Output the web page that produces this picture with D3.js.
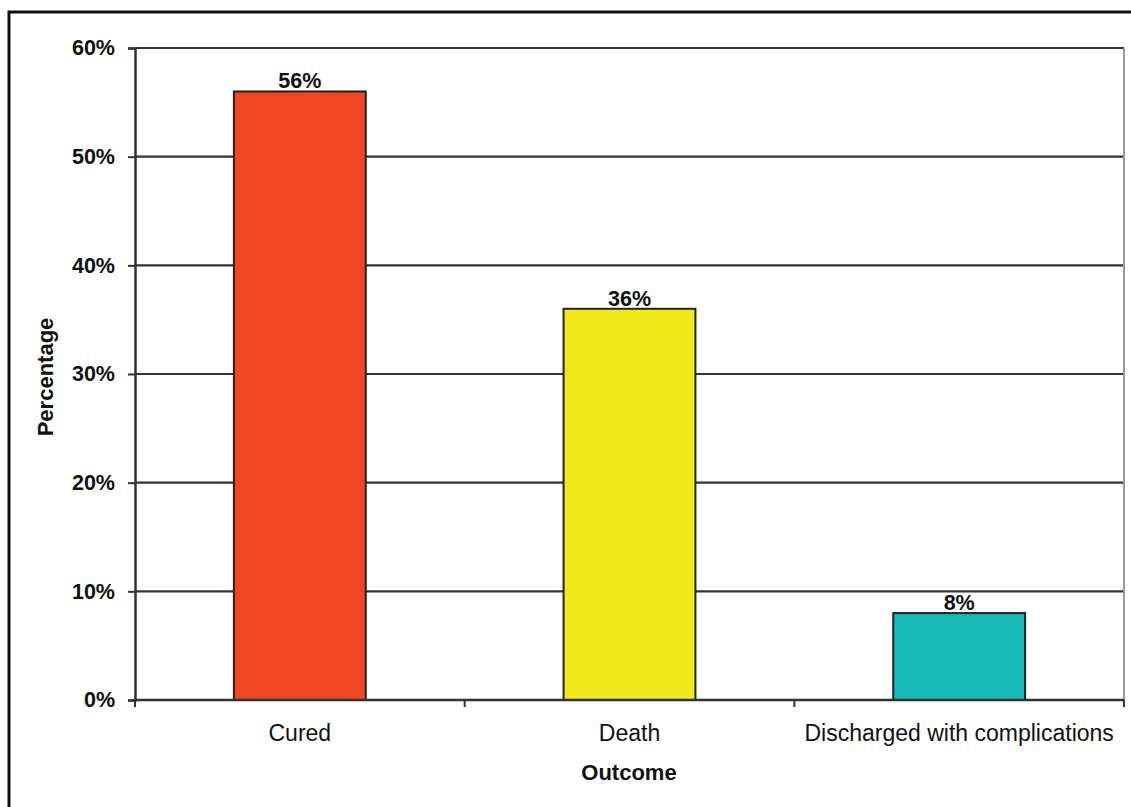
<!DOCTYPE html>
<html>
<head>
<meta charset="utf-8">
<script src="https://cdn.jsdelivr.net/npm/d3@7"></script>
<style>
  html, body { margin: 0; padding: 0; background: #fff; }
  svg { display: block; font-family: "Liberation Sans", Arial, sans-serif; }
</style>
</head>
<body>
<svg id="chart" width="1131" height="807"></svg>
<script>
// Outcome distribution
const categories = ["Cured", "Death", "Discharged with complications"];
const values = [56, 36, 8];
const barColors = ["#ee4722", "#f0ea1a", "#17bab7"];
const yTicks = [0, 10, 20, 30, 40, 50, 60];

const svg = d3.select("#chart");
const W = 1131, H = 807;
const plot = { left: 135, right: 1124, top: 48, bottom: 700 };

// outer frame (runs off the right and bottom edges)
svg.append("rect")
  .attr("x", 9).attr("y", 12)
  .attr("width", W + 20).attr("height", H + 20)
  .attr("fill", "none").attr("stroke", "#111").attr("stroke-width", 3);

const x = d3.scaleBand()
  .domain(categories)
  .range([plot.left, plot.right])
  .paddingInner(0.6).paddingOuter(0.3);

const y = d3.scaleLinear().domain([0, 60]).range([plot.bottom, plot.top]);

// horizontal gridlines
svg.append("g")
  .selectAll("line")
  .data(yTicks.filter(d => d > 0))
  .join("line")
  .attr("x1", plot.left).attr("x2", plot.right)
  .attr("y1", d => y(d)).attr("y2", d => y(d))
  .attr("stroke", "#333").attr("stroke-width", 2.2);

// right edge of plot area
svg.append("line")
  .attr("x1", plot.right).attr("x2", plot.right)
  .attr("y1", plot.top).attr("y2", plot.bottom)
  .attr("stroke", "#9a9a9a").attr("stroke-width", 2);

// y axis
const yAxis = svg.append("g")
  .attr("transform", `translate(${plot.left},0)`)
  .call(d3.axisLeft(y).tickValues(yTicks).tickFormat(d => d + "%").tickSize(7).tickPadding(13));
yAxis.select(".domain").attr("stroke", "#333").attr("stroke-width", 2.5);
yAxis.selectAll(".tick line").attr("stroke", "#333").attr("stroke-width", 2);
yAxis.selectAll(".tick text")
  .attr("font-size", 21.5).attr("font-weight", "bold").attr("fill", "#111")
  .attr("font-family", "Liberation Sans, Arial, sans-serif");

// bars
svg.append("g")
  .selectAll("rect")
  .data(categories)
  .join("rect")
  .attr("x", d => x(d))
  .attr("width", x.bandwidth())
  .attr("y", (d, i) => y(values[i]))
  .attr("height", (d, i) => y(0) - y(values[i]))
  .attr("fill", (d, i) => barColors[i])
  .attr("stroke", "#222").attr("stroke-width", 2);

// value labels
svg.append("g")
  .selectAll("text")
  .data(categories)
  .join("text")
  .attr("x", d => x(d) + x.bandwidth() / 2)
  .attr("y", (d, i) => y(values[i]) - 3)
  .attr("text-anchor", "middle")
  .attr("font-size", 21.5).attr("font-weight", "bold").attr("fill", "#111")
  .text((d, i) => values[i] + "%");

// x axis
const xAxisLine = svg.append("g");
xAxisLine.append("line")
  .attr("x1", plot.left).attr("x2", plot.right)
  .attr("y1", plot.bottom).attr("y2", plot.bottom)
  .attr("stroke", "#333").attr("stroke-width", 2.5);
const boundaries = [0, 1, 2, 3].map(i => plot.left + (plot.right - plot.left) * i / 3);
xAxisLine.selectAll("line.tk")
  .data(boundaries)
  .join("line").attr("class", "tk")
  .attr("x1", d => d).attr("x2", d => d)
  .attr("y1", plot.bottom).attr("y2", plot.bottom + 7)
  .attr("stroke", "#333").attr("stroke-width", 2);

svg.append("g")
  .selectAll("text")
  .data(categories)
  .join("text")
  .attr("x", d => x(d) + x.bandwidth() / 2)
  .attr("y", 741)
  .attr("text-anchor", "middle")
  .attr("font-size", 23).attr("fill", "#111")
  .text(d => d);

// axis titles
svg.append("text")
  .attr("x", 629).attr("y", 780)
  .attr("text-anchor", "middle")
  .attr("font-size", 22).attr("font-weight", "bold").attr("fill", "#111")
  .text("Outcome");

svg.append("text")
  .attr("transform", "translate(53,377) rotate(-90)")
  .attr("text-anchor", "middle")
  .attr("font-size", 22).attr("font-weight", "bold").attr("fill", "#111")
  .text("Percentage");
</script>
</body>
</html>
